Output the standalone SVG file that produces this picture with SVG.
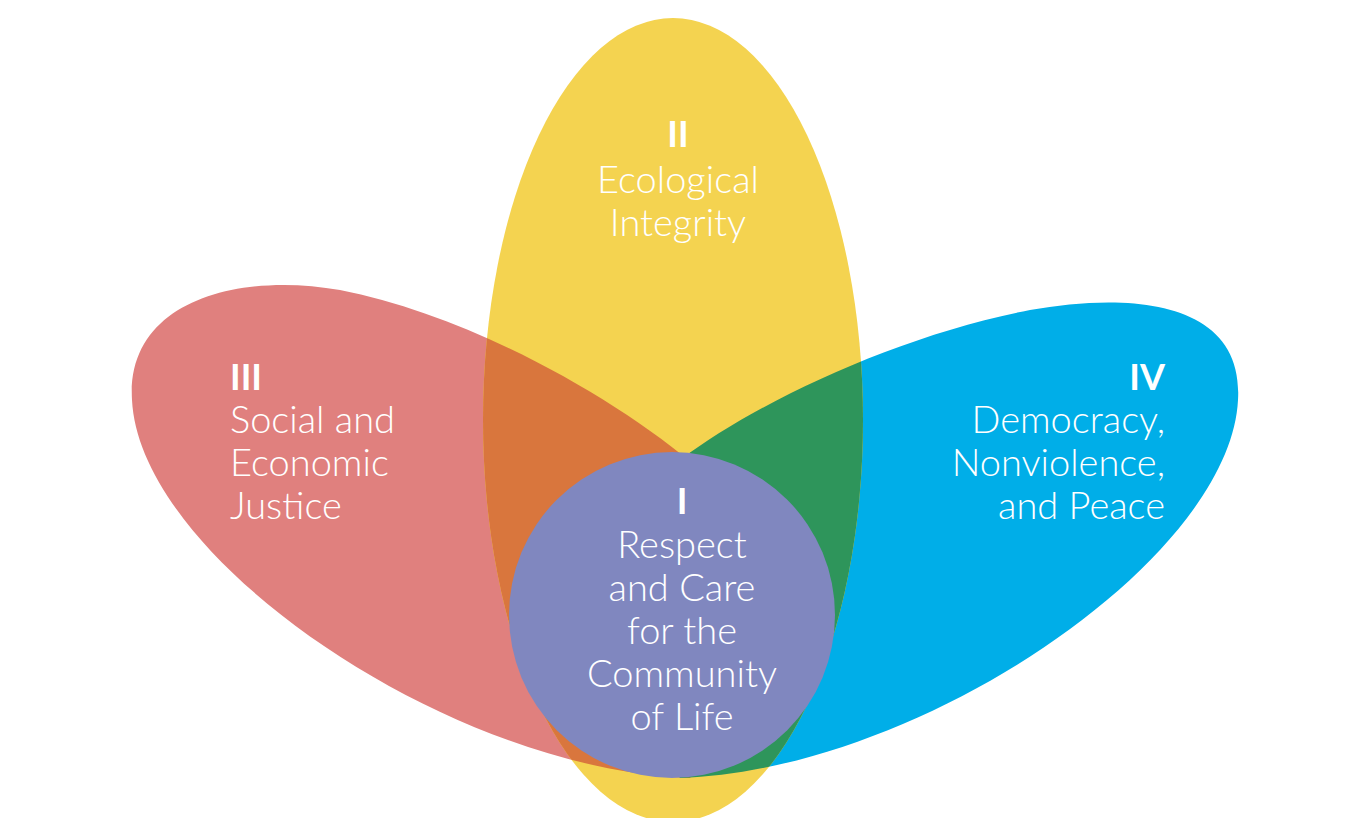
<svg xmlns="http://www.w3.org/2000/svg" width="1346" height="818" viewBox="0 0 1346 818">
<style>
text{font-family:"Lato","Open Sans",sans-serif;fill:#fff;font-size:38px;font-weight:300}
.n{font-weight:700;font-size:36px}
</style>
<defs>
<path id="red" d="M690,778 C450,770 140,560 132,400 C126,300 240,272 340,290 C470,315 620,400 700,470 C780,540 760,700 690,778 Z"/>
<path id="blue" d="M680,778 C920,770 1230,560 1238,400 C1244,300 1130,292 1030,310 C900,335 760,400 680,460 C600,530 610,700 680,778 Z"/>
<ellipse id="yel" cx="673" cy="420" rx="190" ry="402"/>
<clipPath id="cr"><use href="#red"/></clipPath>
<clipPath id="cb"><use href="#blue"/></clipPath>
</defs>
<rect width="1346" height="818" fill="#fff"/>
<g id="petal-iii"><use href="#red" fill="#E0807E"/></g>
<g id="petal-iv"><use href="#blue" fill="#00AEE8"/></g>
<g id="petal-ii"><use href="#yel" fill="#F4D350"/></g>
<g id="overlaps">
<use href="#yel" fill="#D9763D" clip-path="url(#cr)"/>
<use href="#yel" fill="#2E955B" clip-path="url(#cb)"/>
</g>
<g id="center-i"><circle cx="672" cy="615" r="163" fill="#8087BF"/></g>
<g id="labels">
<text class="n" x="678" y="147" text-anchor="middle">II</text>
<text x="678" y="193" text-anchor="middle">Ecological</text>
<text x="678" y="236" text-anchor="middle">Integrity</text>
<text class="n" x="230" y="390">III</text>
<text x="230" y="433">Social and</text>
<text x="230" y="476">Economic</text>
<text x="230" y="519">Justice</text>
<text class="n" x="1165" y="390" text-anchor="end">IV</text>
<text x="1165" y="433" text-anchor="end">Democracy,</text>
<text x="1165" y="476" text-anchor="end">Nonviolence,</text>
<text x="1165" y="519" text-anchor="end">and Peace</text>
<text class="n" x="682" y="514" text-anchor="middle">I</text>
<text x="682" y="558" text-anchor="middle">Respect</text>
<text x="682" y="601" text-anchor="middle">and Care</text>
<text x="682" y="644" text-anchor="middle">for the</text>
<text x="682" y="687" text-anchor="middle">Community</text>
<text x="682" y="730" text-anchor="middle">of Life</text>
</g>
</svg>
